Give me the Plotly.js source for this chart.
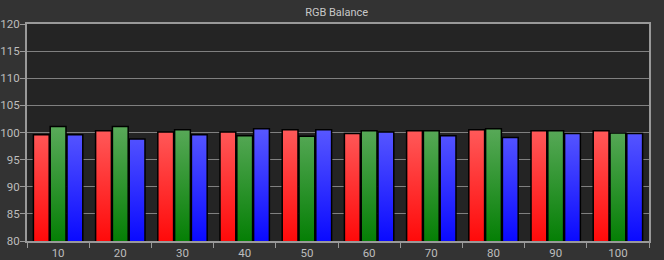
<!DOCTYPE html>
<html>
<head>
<meta charset="utf-8">
<script src="https://cdn.plot.ly/plotly-3.0.1.min.js"></script>
<style>
html,body{margin:0;padding:0;background:#333333;}
#chart{width:664px;height:260px;}
</style>
</head>
<body>
<div id="chart"></div>
<script>
const categories = ["10","20","30","40","50","60","70","80","90","100"];
const redValues   = [99.6, 100.3, 100.1, 100.1, 100.5, 99.8, 100.3, 100.5, 100.3, 100.3];
const greenValues = [101.1, 101.1, 100.5, 99.4, 99.3, 100.3, 100.3, 100.7, 100.3, 99.9];
const blueValues  = [99.6, 98.8, 99.6, 100.7, 100.5, 100.1, 99.4, 99.1, 99.8, 99.8];
const yTicks = [80, 85, 90, 95, 100, 105, 110, 115, 120];

const seriesDefs = [
  {name: "Red", y: redValues, color: "#ff2020"},
  {name: "Green", y: greenValues, color: "#1a8a1a"},
  {name: "Blue", y: blueValues, color: "#2020ff"}
];

const data = seriesDefs.map(s => ({
  type: "bar",
  name: s.name,
  x: categories,
  y: s.y,
  marker: {color: s.color, line: {color: "#000000", width: 1.5}},
  hoverinfo: "none"
}));

const fontFam = "Roboto, Open Sans, DejaVu Sans, sans-serif";
const layout = {
  width: 664, height: 260,
  paper_bgcolor: "#333333",
  plot_bgcolor: "#242424",
  margin: {l: 27, r: 15, t: 24, b: 19, pad: 0},
  showlegend: false,
  barmode: "group",
  bargap: 0.19,
  bargroupgap: 0.06,
  title: {text: "RGB Balance", font: {family: fontFam, size: 11, color: "#c8c8c8"}, x: 0.507, xanchor: "center", y: 0.995, yanchor: "top", yref: "container", pad: {t: 7}},
  font: {family: fontFam, size: 11, color: "#bdbdbd"},
  xaxis: {
    type: "category",
    tickson: "boundaries",
    ticks: "outside", ticklen: 5, tickcolor: "#999999", tickwidth: 1,
    showline: true, linecolor: "#999999", linewidth: 2, mirror: true,
    showgrid: false,
    tickfont: {family: fontFam, size: 11.5, color: "#bdbdbd"},
    fixedrange: true
  },
  yaxis: {
    range: [80, 120],
    tickvals: yTicks,
    ticktext: yTicks.map(String),
    ticks: "outside", ticklen: 5, tickcolor: "#999999", tickwidth: 1,
    ticklabelstandoff: -2,
    showline: true, linecolor: "#999999", linewidth: 2, mirror: true,
    showgrid: true, gridcolor: "#808080", gridwidth: 1,
    zeroline: false,
    tickfont: {family: fontFam, size: 11.5, color: "#bdbdbd"},
    fixedrange: true
  }
};

const gradients = [
  {id: "gR", top: "#ff5c5c", bottom: "#ff0a0a"},
  {id: "gG", top: "#5aaa5a", bottom: "#057f05"},
  {id: "gB", top: "#5a5aff", bottom: "#0a0aff"}
];

Plotly.newPlot("chart", data, layout, {staticPlot: true}).then(gd => {
  const svg = gd.querySelector("svg.main-svg");
  const ns = "http://www.w3.org/2000/svg";
  const ya = gd._fullLayout.yaxis;
  const yTop = ya.l2p(101.2);
  const yBot = ya.l2p(80);
  let defs = svg.querySelector("defs");
  if (!defs) { defs = document.createElementNS(ns, "defs"); svg.insertBefore(defs, svg.firstChild); }
  gradients.forEach(g => {
    const lg = document.createElementNS(ns, "linearGradient");
    lg.setAttribute("id", g.id);
    lg.setAttribute("gradientUnits", "userSpaceOnUse");
    lg.setAttribute("x1", "0"); lg.setAttribute("y1", String(yTop));
    lg.setAttribute("x2", "0"); lg.setAttribute("y2", String(yBot));
    const s1 = document.createElementNS(ns, "stop");
    s1.setAttribute("offset", "0"); s1.setAttribute("stop-color", g.top);
    const s2 = document.createElementNS(ns, "stop");
    s2.setAttribute("offset", "1"); s2.setAttribute("stop-color", g.bottom);
    lg.appendChild(s1); lg.appendChild(s2);
    defs.appendChild(lg);
  });
  const traces = gd.querySelectorAll(".barlayer .trace");
  traces.forEach((tr, i) => {
    tr.querySelectorAll("path").forEach(p => {
      p.style.fill = "url(#" + gradients[i].id + ")";
      p.style.fillOpacity = 1;
    });
  });
});
</script>
</body>
</html>
